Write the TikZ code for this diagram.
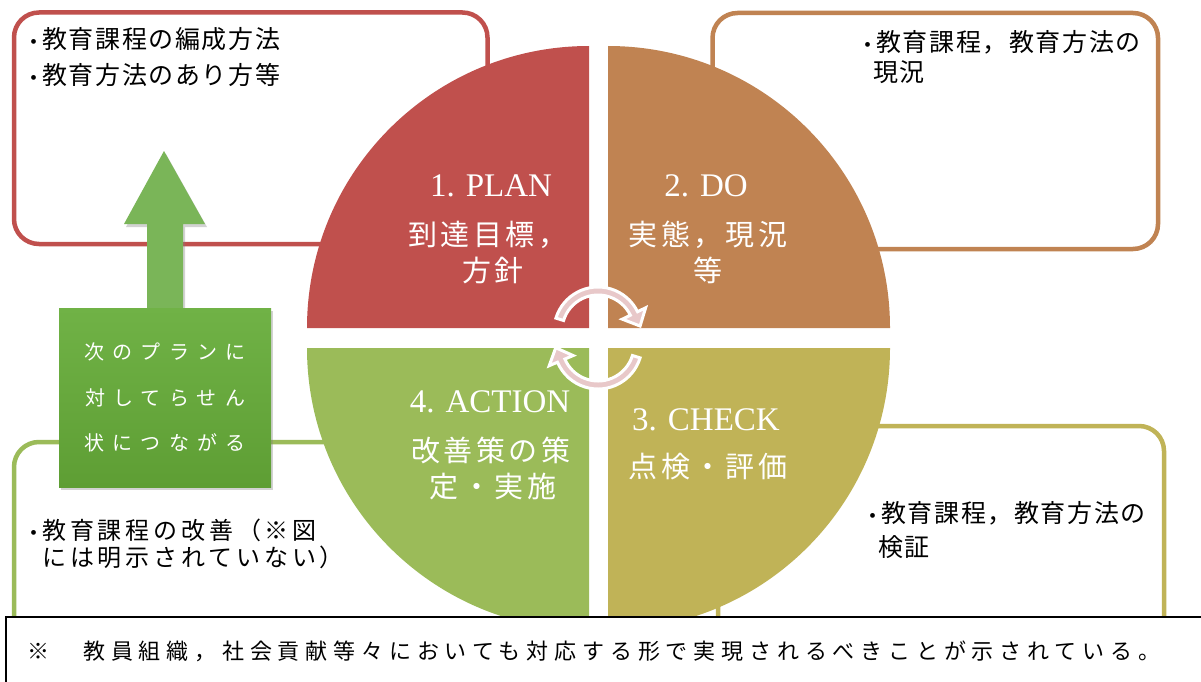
\documentclass[tikz,border=0pt]{standalone}
\usepackage{fontspec}
\setmainfont{Liberation Serif}
\newfontfamily\jpbx{Noto Sans CJK JP}[LetterSpace=6.5]
\newfontfamily\jpgx{Noto Sans CJK JP}[LetterSpace=16]
\newfontfamily\jpqx{Noto Sans CJK JP}[LetterSpace=12]
\newfontfamily\jpnx{Noto Sans CJK JP}[LetterSpace=41]
\newfontfamily\jpfx{Noto Sans CJK JP}[LetterSpace=26.5]
\newfontfamily\jpplain{Noto Sans CJK JP}
\usetikzlibrary{calc,shadows}
\definecolor{qred}{RGB}{192,80,77}
\definecolor{qorange}{RGB}{192,131,82}
\definecolor{qolive}{RGB}{192,179,87}
\definecolor{qgreen}{RGB}{155,187,89}
\definecolor{arrgreen}{RGB}{122,181,88}
\definecolor{gtop}{RGB}{112,178,70}
\definecolor{gbot}{RGB}{94,158,52}
\definecolor{cycpink}{RGB}{232,200,201}
\newcommand\bulmark{{\fontsize{20}{20}\selectfont\rmfamily •}\hspace{5pt}}
\tikzset{
  boxline/.style={line width=4.5pt, rounded corners=25pt},
  boxtxt/.style={inner sep=0pt, anchor=west, font={\fontsize{25}{25}\selectfont\jpbx}},
  boxtxtg/.style={inner sep=0pt, anchor=west, font={\fontsize{24}{24}\selectfont\jpgx}},
  qlat/.style={inner sep=0pt, text=white, font={\fontsize{33}{33}\selectfont\rmfamily}},
  qjp/.style={inner sep=0pt, text=white, font={\fontsize{29}{29}\selectfont\jpqx}},
  cyc/.style={fill=cycpink, draw=white, line width=3pt, line join=miter},
}
\begin{document}
\begin{tikzpicture}[x=1pt,y=-1pt]
\useasboundingbox (0,0) rectangle (1201,682);
\fill[white] (0,0) rectangle (1201,682);
% outer boxes
\draw[boxline, draw=qred] (14,12.5) rectangle (487.5,244);
\draw[boxline, draw=qorange] (712.5,13) rectangle (1158,249);
\draw[boxline, draw=qgreen] (14,442) rectangle (545,720);
\draw[boxline, draw=qolive] (718,426) rectangle (1164,720);
% quadrants
\fill[qred] (589,328) -- ++(180:282) arc[start angle=180, end angle=270, radius=282] -- cycle;
\fill[qorange] (608,328) -- ++(270:282) arc[start angle=270, end angle=360, radius=282] -- cycle;
\fill[qolive] (608,348) -- ++(0:282) arc[start angle=0, end angle=90, radius=282] -- cycle;
\fill[qgreen] (589,348) -- ++(90:282) arc[start angle=90, end angle=180, radius=282] -- cycle;
% quadrant texts
\node[qlat] (plan) at (491,186) {1. PLAN};
\node[qjp] (plan1) at (488,235) {到達目標，};
\node[qjp] (plan2) at (493,270) {方針};
\node[qlat] (do) at (706,186) {2. DO};
\node[qjp] (do1) at (708,235) {実態，現況};
\node[qjp] (do2) at (708,270) {等};
\node[qlat] (act) at (490,402) {4. ACTION};
\node[qjp] (act1) at (491,450) {改善策の策};
\node[qjp] (act2) at (493,487) {定・実施};
\node[qlat] (chk) at (706,420) {3. CHECK};
\node[qjp] (chk1) at (708,467) {点検・評価};
% cycle arrows
\coordinate (c1) at (598,331);
\coordinate (c2) at (598,345);
\path[cyc] ($(c1)+(197:44)$) arc[start angle=197, end angle=334, radius=44]
  -- ($(c1)+(334:53)$) -- ($(c1)+(334:40)+(64:14)$) -- ($(c1)+(334:27)$)
  -- ($(c1)+(334:36)$) arc[start angle=334, end angle=197, radius=36] -- cycle;
\path[cyc] ($(c2)+(17:44)$) arc[start angle=17, end angle=157, radius=44]
  -- ($(c2)+(157:53)$) -- ($(c2)+(157:40)+(247:14)$) -- ($(c2)+(157:27)$)
  -- ($(c2)+(157:36)$) arc[start angle=157, end angle=17, radius=36] -- cycle;
% green up arrow
\fill[arrgreen, drop shadow={opacity=0.35, shadow xshift=2pt, shadow yshift=-3pt}]
  (147,308) -- (147,224) -- (124,224) -- (164,151) -- (205,224) -- (183,224) -- (183,308) -- cycle;
% green text box
\node[inner sep=0pt, minimum width=212pt, minimum height=179pt, top color=gtop, bottom color=gbot,
  drop shadow={opacity=0.35, shadow xshift=2pt, shadow yshift=-3pt},
  text=white, align=center, font={\fontsize{20}{45.5}\selectfont\jpnx}] (next) at (165,397.5)
  {次のプランに\\対してらせん\\状につながる};
% box texts
\node[boxtxt] (r1) at (30,39) {\bulmark 教育課程の編成方法};
\node[boxtxt] (r2) at (30,75) {\bulmark 教育方法のあり方等};
\node[boxtxt] (o1) at (864,42) {\bulmark 教育課程，教育方法の};
\node[boxtxt] (o2) at (873,72) {現況};
\node[boxtxtg] (g1) at (30,530) {\bulmark 教育課程の改善（※図};
\node[boxtxtg] (g2) at (42,557) {には明示されていない）};
\node[boxtxt] (y1) at (869,513) {\bulmark 教育課程，教育方法の};
\node[boxtxt] (y2) at (878,547) {検証};
% bottom note
\draw[line width=2pt, fill=white] (6,617) rectangle (1215,700);
\node[inner sep=0pt, anchor=west, font={\fontsize{22}{22}\selectfont\jpplain}] (n0) at (27,651) {※};
\node[inner sep=0pt, anchor=west, font={\fontsize{22}{22}\selectfont\jpfx}] (n1) at (83,651)
  {教員組織，社会貢献等々においても対応する形で実現されるべきことが示されている。};
\end{tikzpicture}
\end{document}
